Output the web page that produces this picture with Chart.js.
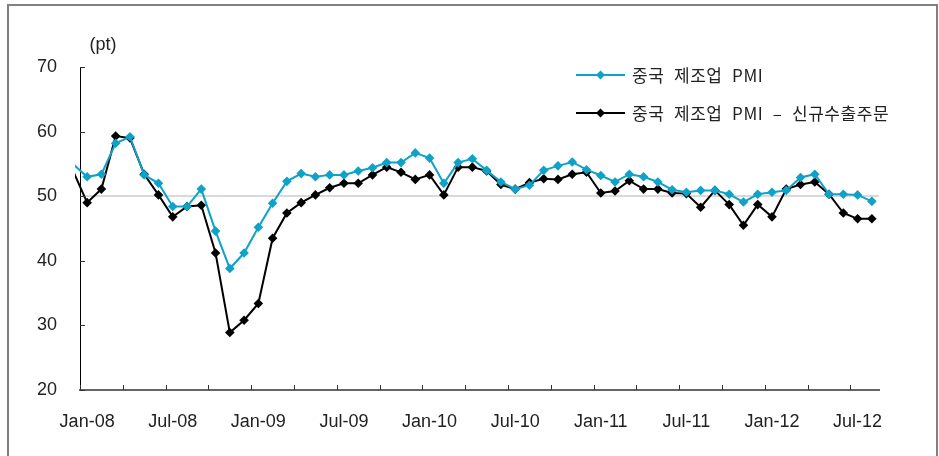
<!DOCTYPE html>
<html>
<head>
<meta charset="utf-8">
<script src="https://cdn.jsdelivr.net/npm/chart.js@4.4.1/dist/chart.umd.min.js"></script>
<style>
  html, body { margin: 0; padding: 0; background: #fff; overflow: hidden; }
  #frame { position: absolute; left: 7px; top: 4px; width: 927px; height: 520px; border: 2px solid #808080; }
  #wrap { position: absolute; left: 0; top: 0; width: 939px; height: 456px; }
</style>
</head>
<body>
<div id="frame"></div>
<div id="wrap"><canvas id="chart" width="939" height="456"></canvas></div>
<script>
/* -----------------------------------------------------
   DATA (Dec-07 sits just left of the axis, clipped)
----------------------------------------------------- */
const months = [
  "Dec-07",
  "Jan-08", "Feb-08", "Mar-08", "Apr-08", "May-08", "Jun-08", "Jul-08", "Aug-08", "Sep-08", "Oct-08", "Nov-08", "Dec-08",
  "Jan-09", "Feb-09", "Mar-09", "Apr-09", "May-09", "Jun-09", "Jul-09", "Aug-09", "Sep-09", "Oct-09", "Nov-09", "Dec-09",
  "Jan-10", "Feb-10", "Mar-10", "Apr-10", "May-10", "Jun-10", "Jul-10", "Aug-10", "Sep-10", "Oct-10", "Nov-10", "Dec-10",
  "Jan-11", "Feb-11", "Mar-11", "Apr-11", "May-11", "Jun-11", "Jul-11", "Aug-11", "Sep-11", "Oct-11", "Nov-11", "Dec-11",
  "Jan-12", "Feb-12", "Mar-12", "Apr-12", "May-12", "Jun-12", "Jul-12", "Aug-12"
];

const pmi = [
  55.0,
  53.0, 53.4, 58.2, 59.2, 53.3, 52.0, 48.4, 48.4, 51.1, 44.6, 38.8, 41.2,
  45.2, 48.9, 52.3, 53.5, 53.0, 53.3, 53.3, 53.9, 54.4, 55.2, 55.2, 56.7,
  55.9, 52.0, 55.2, 55.8, 54.0, 52.2, 51.1, 51.7, 54.0, 54.7, 55.3, 54.1,
  53.2, 52.2, 53.4, 53.0, 52.2, 51.0, 50.6, 50.9, 50.9, 50.3, 49.1, 50.3,
  50.6, 50.9, 52.9, 53.4, 50.3, 50.3, 50.2, 49.2
];

const exportOrders = [
  54.0,
  49.0, 51.1, 59.3, 59.0, 53.4, 50.2, 46.8, 48.4, 48.6, 41.2, 28.9, 30.8,
  33.4, 43.5, 47.4, 49.0, 50.2, 51.3, 52.0, 52.0, 53.3, 54.5, 53.7, 52.6,
  53.3, 50.2, 54.5, 54.5, 53.9, 51.8, 51.1, 52.1, 52.7, 52.6, 53.4, 53.7,
  50.5, 50.8, 52.4, 51.1, 51.1, 50.5, 50.4, 48.3, 50.9, 48.7, 45.5, 48.7,
  46.8, 51.1, 51.8, 52.2, 50.3, 47.4, 46.5, 46.5
];

const seriesNames = ["중국 제조업 PMI", "중국 제조업 PMI – 신규수출주문"];
const seriesColors = ["#0ea2c9", "#000000"];
const yTicks = [20, 30, 40, 50, 60, 70];
const unitLabel = "(pt)";

const tickFont = { family: "'Liberation Sans', Arial, sans-serif", size: 18 };
const legendFont = "17px 'Noto Sans CJK KR', 'Liberation Sans', sans-serif";

/* -----------------------------------------------------
   INWARD TICK MARKS + UNIT LABEL
----------------------------------------------------- */
const innerTicks = {
  id: "innerTicks",
  afterDraw(chart) {
    const { ctx, chartArea, scales } = chart;
    const x = scales.x, y = scales.y;
    ctx.save();
    ctx.strokeStyle = "#333";
    ctx.lineWidth = 1;
    yTicks.forEach(v => {
      const py = Math.round(y.getPixelForValue(v)) + 0.5;
      ctx.beginPath();
      ctx.moveTo(chartArea.left, py);
      ctx.lineTo(chartArea.left + 5, py);
      ctx.stroke();
    });
    const step = x.getPixelForValue(2) - x.getPixelForValue(1);
    for (let i = 1; i < months.length; i += 3) {
      const px = Math.round(x.getPixelForValue(i) - step / 2) + 0.5;
      ctx.beginPath();
      ctx.moveTo(px, chartArea.bottom);
      ctx.lineTo(px, chartArea.bottom - 5);
      ctx.stroke();
    }
    ctx.fillStyle = "#222";
    ctx.font = "18px 'Liberation Sans', Arial, sans-serif";
    ctx.textAlign = "center";
    ctx.textBaseline = "middle";
    ctx.fillText(unitLabel, chartArea.left + 23, chartArea.top - 22);
    ctx.restore();
  }
};

/* -----------------------------------------------------
   LEGEND (inside plot, top right)
----------------------------------------------------- */
const insideLegend = {
  id: "insideLegend",
  afterDraw(chart) {
    const { ctx, chartArea } = chart;
    const x0 = chartArea.right - 303;
    ctx.save();
    chart.data.datasets.forEach((ds, k) => {
      const yy = chartArea.top + 8 + k * 38;
      ctx.strokeStyle = ds.borderColor;
      ctx.lineWidth = 2;
      ctx.beginPath();
      ctx.moveTo(x0, yy);
      ctx.lineTo(x0 + 49, yy);
      ctx.stroke();
      const cx = x0 + 24.5, r = 4.5;
      ctx.fillStyle = ds.borderColor;
      ctx.beginPath();
      ctx.moveTo(cx, yy - r);
      ctx.lineTo(cx + r, yy);
      ctx.lineTo(cx, yy + r);
      ctx.lineTo(cx - r, yy);
      ctx.closePath();
      ctx.fill();
      ctx.fillStyle = "#222";
      ctx.font = legendFont;
      if ("wordSpacing" in ctx) ctx.wordSpacing = "5px";
      if ("letterSpacing" in ctx) ctx.letterSpacing = "0.6px";
      ctx.textAlign = "left";
      ctx.textBaseline = "middle";
      ctx.fillText(ds.label, x0 + 56, yy + 1);
    });
    ctx.restore();
  }
};

/* -----------------------------------------------------
   CHART INSTANCE
----------------------------------------------------- */
const makeSeries = (label, data, color) => ({
  label,
  data,
  borderColor: color,
  backgroundColor: color,
  borderWidth: 2,
  tension: 0,
  pointStyle: "rectRot",
  pointRadius: c => (c.dataIndex === 0 ? 0 : 4.8),
  pointBorderWidth: 0,
  clip: { left: 5, top: 10, right: 10, bottom: 10 }
});

new Chart(document.getElementById("chart"), {
  type: "line",
  data: {
    labels: months,
    datasets: [
      makeSeries(seriesNames[0], pmi, seriesColors[0]),
      makeSeries(seriesNames[1], exportOrders, seriesColors[1])
    ]
  },
  options: {
    responsive: false,
    animation: false,
    events: [],
    layout: { padding: { left: 0, top: 67, right: 60, bottom: 0 } },
    plugins: {
      legend: { display: false },
      tooltip: { enabled: false }
    },
    scales: {
      x: {
        type: "category",
        min: "Jan-08",
        offset: true,
        grid: { display: false, drawTicks: false },
        border: { display: true, color: "#666", width: 2 },
        ticks: {
          autoSkip: false,
          maxRotation: 0,
          padding: 21,
          color: "#222",
          font: tickFont,
          callback: function (value) {
            const l = this.getLabelForValue(value);
            return l.startsWith("Jan") || l.startsWith("Jul") ? l : "";
          }
        },
        afterFit: s => { s.height = 66; }
      },
      y: {
        min: 20,
        max: 70,
        grid: {
          drawTicks: false,
          lineWidth: 2,
          color: c => (c.tick && c.tick.value === 50 ? "#d9d9d9" : "rgba(0,0,0,0)")
        },
        border: { display: true, color: "#000", width: 1 },
        ticks: {
          stepSize: 10,
          padding: 23,
          color: "#222",
          font: tickFont
        },
        afterFit: s => { s.width = 80; }
      }
    }
  },
  plugins: [innerTicks, insideLegend]
});
</script>
</body>
</html>
